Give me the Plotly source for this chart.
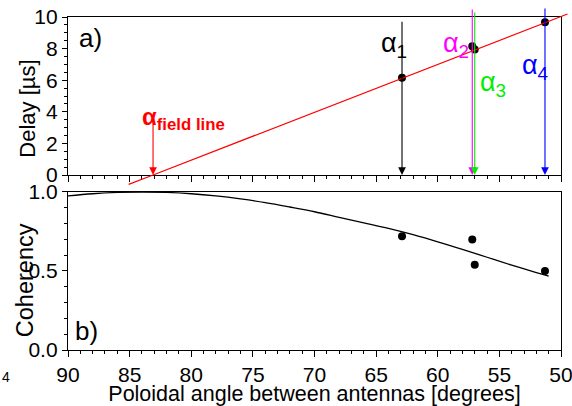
import plotly.graph_objects as go

# ---------------- data ----------------
labels = ["α<sub>1</sub>", "α<sub>2</sub>", "α<sub>3</sub>", "α<sub>4</sub>"]
label_colors = ["black", "#ff00ff", "#00ee00", "#0000ff"]
angles = [62.9, 57.2, 57.0, 51.3]          # poloidal angle [deg]
delays = [6.16, 8.15, 7.95, 9.66]          # delay [us]
coherency = [0.72, 0.70, 0.54, 0.50]
arrow_tops = [9.8, 10.57, 10.38, 10.63]    # where the vertical arrows start [us]

# label positions (angle, delay)
label_x = [64.8, 59.7, 56.75, 53.35]
label_y = [8.2, 8.2, 5.75, 6.85]

# linear fit of the delays (red line)
fit_angle = [85.2, 83.1, 49.35]
fit_delay = [-0.63, 0.0, 10.23]
alpha_field = 83.1
alpha_field_arrow_top = 3.3

# model coherency curve
curve_angle = [90, 88, 86, 84, 82, 80, 78, 76, 74, 72, 70, 68, 66, 64, 62, 60, 58, 56, 54, 52, 51]
curve_coh = [0.975, 0.989, 0.997, 1.0, 0.997, 0.989, 0.975, 0.956, 0.933, 0.905, 0.875,
             0.84, 0.805, 0.77, 0.73, 0.685, 0.637, 0.587, 0.537, 0.49, 0.468]

x_ticks = [90, 85, 80, 75, 70, 65, 60, 55, 50]

FONT = "Liberation Sans, Arial, sans-serif"

fig = go.Figure()

# bottom panel: coherency
fig.add_trace(go.Scatter(x=curve_angle, y=curve_coh, mode="lines", line=dict(color="black", width=1.3, shape="spline"),
                         xaxis="x", yaxis="y", showlegend=False))
fig.add_trace(go.Scatter(x=angles, y=coherency, mode="markers", marker=dict(color="black", size=8),
                         xaxis="x", yaxis="y", showlegend=False))
# top panel: delay
fig.add_trace(go.Scatter(x=angles, y=delays, mode="markers", marker=dict(color="black", size=8),
                         xaxis="x2", yaxis="y2", showlegend=False, cliponaxis=False))

annotations = []


def arrow(x0, y0, x1, y1, color, head, width=1.1):
    return dict(x=x1, y=y1, ax=x0, ay=y0, xref="x2", yref="y2", axref="x2", ayref="y2",
                showarrow=True, arrowhead=head, arrowsize=1.4, arrowwidth=width, arrowcolor=color,
                text="", font=dict(size=1), standoff=0, startstandoff=0)


# red fit line (extends past the frame)
annotations.append(arrow(fit_angle[0], fit_delay[0], fit_angle[1], fit_delay[1], "#ff0000", 0, 1.2))
annotations.append(arrow(fit_angle[2], fit_delay[2], fit_angle[1], fit_delay[1], "#ff0000", 0, 1.2))
# alpha field line arrow
annotations.append(arrow(alpha_field, alpha_field_arrow_top, alpha_field, 0, "#ff0000", 2))
annotations.append(dict(x=84.15, y=3.55, xref="x2", yref="y2", showarrow=False, xanchor="left", yanchor="middle",
                        text="<b>α<sub>field line</sub></b>", font=dict(family=FONT, size=24, color="#ff0000")))

for a, top, c, lab, lx, ly in zip(angles, arrow_tops, label_colors, labels, label_x, label_y):
    annotations.append(arrow(a, top, a, 0, c, 2))
    annotations.append(dict(x=lx, y=ly, xref="x2", yref="y2", showarrow=False, xanchor="left", yanchor="middle",
                            text=lab, font=dict(family=FONT, size=27, color=c)))

annotations.append(dict(x=89.3, y=8.7, xref="x2", yref="y2", showarrow=False, xanchor="left", yanchor="middle",
                        text="a)", font=dict(family=FONT, size=26, color="black")))
annotations.append(dict(x=89.6, y=0.12, xref="x", yref="y", showarrow=False, xanchor="left", yanchor="middle",
                        text="b)", font=dict(family=FONT, size=26, color="black")))

# y axis titles
annotations.append(dict(x=-0.081, y=0.725, xref="paper", yref="paper", showarrow=False, textangle=-90,
                        xanchor="center", yanchor="middle", text="Delay [µs]",
                        font=dict(family=FONT, size=22, color="black")))
annotations.append(dict(x=-0.087, y=0.21, xref="paper", yref="paper", showarrow=False, textangle=-90,
                        xanchor="center", yanchor="middle", text="Coherency",
                        font=dict(family=FONT, size=23.5, color="black")))
# fragment of neighbouring caption at the lower left
annotations.append(dict(x=-0.138, y=-0.081, xref="paper", yref="paper", showarrow=False,
                        xanchor="left", yanchor="middle", text="4",
                        font=dict(family=FONT, size=14, color="black")))

axis_common = dict(showline=True, linecolor="black", linewidth=1.3, mirror=True, ticks="outside",
                   tickcolor="black", tickwidth=1, showgrid=False, zeroline=False,
                   ticklabeloverflow="allow",
                   tickfont=dict(family=FONT, size=21, color="black"))

fig.update_layout(
    width=572, height=406,
    margin=dict(l=68, r=11, t=17, b=56, autoexpand=False),
    paper_bgcolor="white", plot_bgcolor="white",
    showlegend=False,
    xaxis=dict(domain=[0, 1], anchor="y", range=[90, 50], tickvals=x_ticks, ticklen=6, automargin=False,
               minor=dict(dtick=1, ticklen=3, ticks="outside", tickcolor="black"),
               title=dict(text="Poloidal angle between antennas [degrees]", standoff=0,
                          font=dict(family=FONT, size=21.5, color="black")),
               **axis_common),
    yaxis=dict(domain=[0, 0.4745], anchor="x", range=[0, 1], dtick=0.5, tick0=0, tickformat=".1f", ticklen=5,
               automargin=False,
               minor=dict(dtick=0.1, ticklen=3, ticks="outside", tickcolor="black"),
               **axis_common),
    xaxis2=dict(domain=[0, 1], anchor="y2", range=[90, 50], tickvals=x_ticks, ticklen=6, matches="x",
                showticklabels=False, automargin=False,
                minor=dict(dtick=1, ticklen=3, ticks="outside", tickcolor="black"),
                **axis_common),
    yaxis2=dict(domain=[0.5255, 1], anchor="x2", range=[0, 10], dtick=2, tick0=0, ticklen=5, automargin=False,
                minor=dict(dtick=0.5, ticklen=3, ticks="outside", tickcolor="black"),
                **axis_common),
    annotations=annotations,
)

fig.write_html("out.html", config={"displayModeBar": False},
               post_script="document.body.style.margin='0px';document.body.style.padding='0px';")
